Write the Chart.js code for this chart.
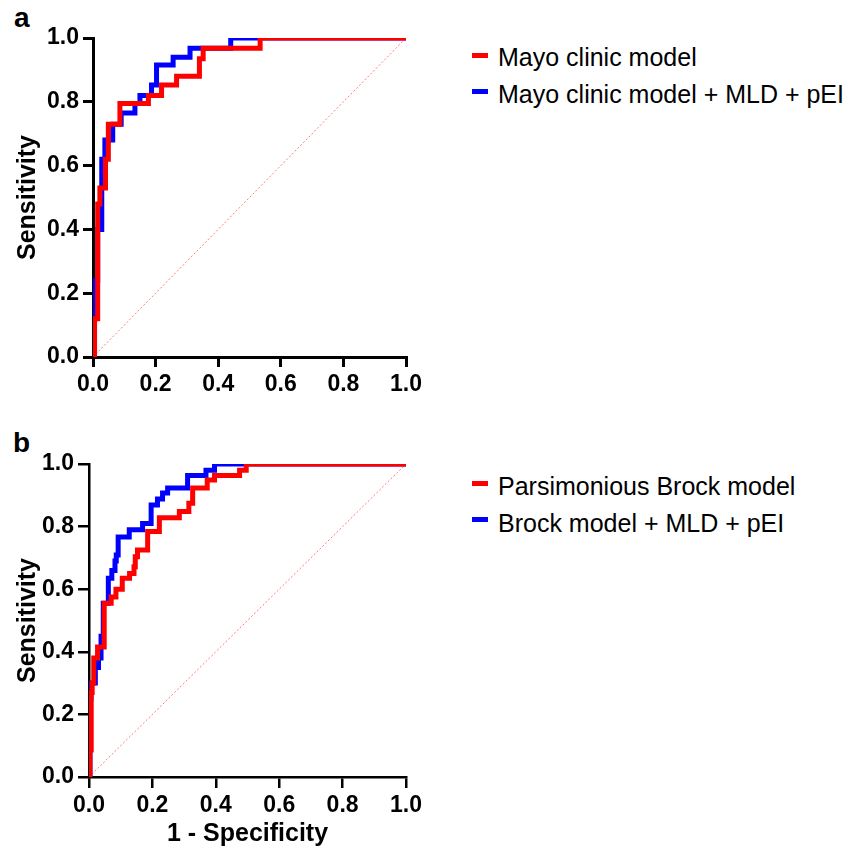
<!DOCTYPE html>
<html><head><meta charset="utf-8">
<script src="https://cdn.jsdelivr.net/npm/chart.js@4/dist/chart.umd.min.js"></script>
<style>
body{margin:0;background:#fff;width:859px;height:853px;position:relative;overflow:hidden;font-family:"Liberation Sans",Arial,sans-serif;color:#000}
canvas{position:absolute;left:0}
#ca{top:0}
#cb{top:426px}
.letter{position:absolute;font-weight:bold;font-size:28px;line-height:28px}
.item{position:absolute;left:472px;height:30px;line-height:30px;font-size:25px;white-space:nowrap}
.sw{position:absolute;left:0;width:16px;height:5px}
.txt{position:absolute;left:26px;top:0}
</style>
</head><body>
<div class="letter" style="left:14px;top:4px">a</div>
<div class="letter" style="left:13px;top:429px">b</div>
<canvas id="ca" width="430" height="400"></canvas>
<canvas id="cb" width="430" height="427"></canvas>
<div id="legA"></div>
<div id="legB"></div>
<script>
// ---- data ----
const tickValues = [0, 0.2, 0.4, 0.6, 0.8, 1.0];
const yTitle = 'Sensitivity';
const xTitle = '1 - Specificity';
const legendA = ['Mayo clinic model', 'Mayo clinic model + MLD + pEI'];
const legendB = ['Parsimonious Brock model', 'Brock model + MLD + pEI'];
const seriesColors = ['#ff0000', '#0000ff'];

// Panel a
const mayoFpr = [0, 0.005, 0.015, 0.022, 0.04, 0.049, 0.086, 0.177, 0.219, 0.267, 0.34, 0.352, 0.534, 1.0];
const mayoTpr = [0, 0.12, 0.48, 0.53, 0.62, 0.73, 0.795, 0.82, 0.853, 0.88, 0.935, 0.968, 1.0, 1.0];
const mayoPlusFpr = [0, 0.003, 0.015, 0.028, 0.038, 0.063, 0.09, 0.134, 0.15, 0.187, 0.203, 0.256, 0.31, 0.44, 1.0];
const mayoPlusTpr = [0, 0.24, 0.40, 0.62, 0.68, 0.73, 0.765, 0.795, 0.82, 0.853, 0.915, 0.94, 0.968, 1.0, 1.0];

// Panel b
const brockFpr = [0, 0.003, 0.007, 0.01, 0.015, 0.027, 0.048, 0.07, 0.085, 0.105, 0.128, 0.142, 0.146, 0.153, 0.185, 0.222, 0.285, 0.315, 0.327, 0.373, 0.396, 0.475, 0.496, 1.0];
const brockTpr = [0, 0.086, 0.27, 0.30, 0.38, 0.415, 0.555, 0.575, 0.60, 0.635, 0.65, 0.672, 0.704, 0.725, 0.784, 0.828, 0.848, 0.875, 0.923, 0.949, 0.963, 0.98, 1.0, 1.0];
const brockPlusFpr = [0, 0.003, 0.006, 0.02, 0.03, 0.038, 0.045, 0.061, 0.072, 0.082, 0.086, 0.092, 0.127, 0.169, 0.196, 0.216, 0.232, 0.248, 0.311, 0.369, 0.396, 1.0];
const brockPlusTpr = [0, 0.25, 0.30, 0.35, 0.38, 0.45, 0.555, 0.635, 0.66, 0.69, 0.709, 0.767, 0.79, 0.81, 0.869, 0.888, 0.907, 0.923, 0.963, 0.98, 1.0, 1.0];

// reference diagonal
const diagFpr = [0, 1];
const diagTpr = [0, 1];

// ---- drawing ----
const FONT = '"Liberation Sans", Arial, sans-serif';
const pts = (xs, ys) => xs.map((x, i) => ({x: x, y: ys[i]}));

function curve(xs, ys, color) {
  return {data: pts(xs, ys), borderColor: color, borderWidth: 5, stepped: 'before',
          pointRadius: 0, fill: false, borderCapStyle: 'butt', borderJoinStyle: 'miter', tension: 0};
}

function makeChart(id, red, blue, g) {
  const axisCommon = () => ({
    type: 'linear', min: 0, max: 1,
    afterBuildTicks: s => { s.ticks = tickValues.map(v => ({value: v})); },
    ticks: {callback: v => Number(v).toFixed(1), color: '#000', padding: g.tickPad, autoSkip: false, maxRotation: 0,
            font: {family: FONT, size: 23, weight: 'bold'}},
    grid: {drawOnChartArea: false, drawTicks: true, tickLength: g.tickLen, color: '#000', lineWidth: g.axisW},
    border: {display: true, color: '#000', width: g.axisW}
  });
  const xs = axisCommon();
  xs.afterFit = s => { s.height = g.xh; };
  xs.title = {display: g.showX, text: xTitle, color: '#000', font: {family: FONT, size: 25, weight: 'bold', lineHeight: 1.2},
              padding: {top: 0, bottom: 4}};
  const ys = axisCommon();
  ys.afterFit = s => { s.width = g.yw; };
  ys.title = {display: true, text: yTitle, color: '#000', font: {family: FONT, size: 25, weight: 'bold', lineHeight: 1.2},
              padding: {top: 13, bottom: 0}};
  return new Chart(document.getElementById(id), {
    type: 'line',
    data: {datasets: [
      curve(red[0], red[1], seriesColors[0]),
      curve(blue[0], blue[1], seriesColors[1]),
      {data: pts(diagFpr, diagTpr), borderColor: '#ff7a7a', borderWidth: 1, borderDash: [2, 2],
       pointRadius: 0, fill: false}
    ]},
    options: {
      responsive: false, animation: false, devicePixelRatio: 1,
      layout: {padding: {left: 0, top: g.top, right: g.right, bottom: 0}},
      plugins: {legend: {display: false}, tooltip: {enabled: false}},
      scales: {x: xs, y: ys}
    }
  });
}

makeChart('ca', [mayoFpr, mayoTpr], [mayoPlusFpr, mayoPlusTpr],
  {top: 38, right: 24, xh: 43, yw: 93, axisW: 3, tickLen: 10, tickPad: 4, showX: false});
makeChart('cb', [brockFpr, brockTpr], [brockPlusFpr, brockPlusTpr],
  {top: 38, right: 24, xh: 76, yw: 89, axisW: 2.5, tickLen: 11, tickPad: 4, showX: true});

function legend(el, labels, tops, swTop) {
  const box = document.getElementById(el);
  labels.forEach((t, i) => {
    const it = document.createElement('div');
    it.className = 'item';
    it.style.top = tops[i] + 'px';
    const sw = document.createElement('div');
    sw.className = 'sw'; sw.style.top = swTop + 'px'; sw.style.background = seriesColors[i];
    const tx = document.createElement('div');
    tx.className = 'txt'; tx.textContent = t;
    it.appendChild(sw); it.appendChild(tx); box.appendChild(it);
  });
}
legend('legA', legendA, [42, 78.6], 10.5);
legend('legB', legendB, [471, 507.8], 9.5);
</script>
</body></html>
